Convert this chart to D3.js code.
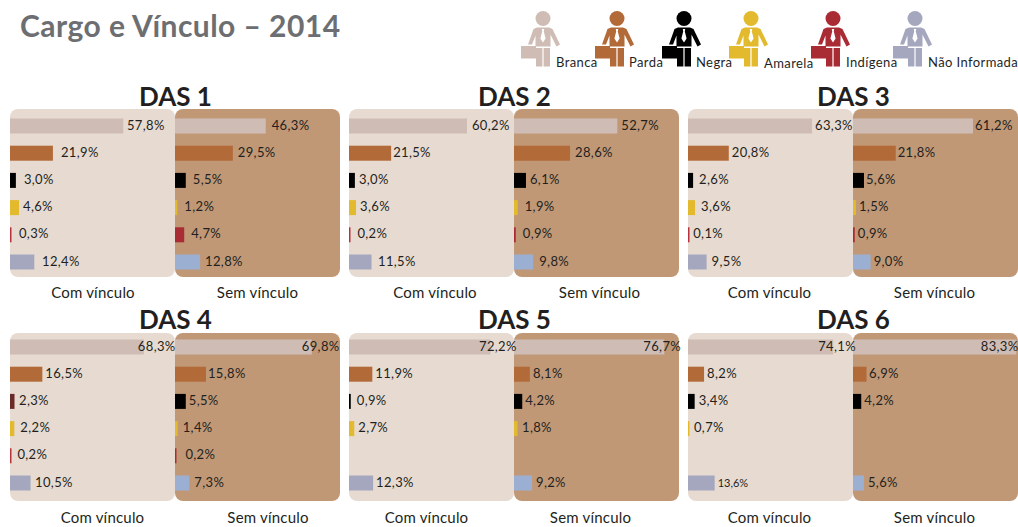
<!DOCTYPE html>
<html><head><meta charset="utf-8">
<script src="https://cdn.jsdelivr.net/npm/d3@7"></script>
<style>html,body{margin:0;padding:0;background:#fff}svg{display:block}text{font-family:Lato,"Open Sans",sans-serif}</style>
</head><body><svg id="c" width="1018" height="527"></svg>
<script>
const mainTitle = "Cargo e Vínculo – 2014";
const categories = ["Branca","Parda","Negra","Amarela","Indígena","Não Informada"];
const cargos = ["DAS 1","DAS 2","DAS 3","DAS 4","DAS 5","DAS 6"];
const vinculos = ["Com vínculo","Sem vínculo"];

const das1Com = [57.8,21.9,3.0,4.6,0.3,12.4];
const das1Sem = [46.3,29.5,5.5,1.2,4.7,12.8];
const das2Com = [60.2,21.5,3.0,3.6,0.2,11.5];
const das2Sem = [52.7,28.6,6.1,1.9,0.9,9.8];
const das3Com = [63.3,20.8,2.6,3.6,0.1,9.5];
const das3Sem = [61.2,21.8,5.6,1.5,0.9,9.0];
const das4Com = [68.3,16.5,2.3,2.2,0.2,10.5];
const das4Sem = [69.8,15.8,5.5,1.4,0.2,7.3];
const das5Com = [72.2,11.9,0.9,2.7,null,12.3];
const das5Sem = [76.7,8.1,4.2,1.8,null,9.2];
const das6Com = [74.1,8.2,3.4,0.7,null,13.6];
const das6Sem = [83.3,6.9,4.2,null,null,5.6];
const seriesValues = [[das1Com,das1Sem],[das2Com,das2Sem],[das3Com,das3Sem],[das4Com,das4Sem],[das5Com,das5Sem],[das6Com,das6Sem]];

// ---- layout and style, separate from the data ----
const labelGaps = [
 [[3.7,8,8,4,8.4,7.7],[6,5,7,7,7,5]],
 [[5,2,4,4,8,6.5],[4,5,4,7,7,6]],
 [[3,3,6,6,5,5],[2,2,2,3,3,3]],
 [[-6,3,4.5,6,7,4.5],[-10,2,3,5,10,5]],
 [[-11.5,3,6,4,0,3],[-21,3,3,4.5,0,4]],
 [[-15,3,4,4.6,0,3],[-35.5,2.5,3,0,0,4]]
];
const comColors = ["#cfbdb5","#b26a38","#000000","#e3ba2e","#b8323c","#a5a7bf"];
const semColors = ["#cfbdb5","#b26a38","#000000","#e3ba2e","#a92b33","#9bafd3"];
const legendColors = ["#cfbdb5","#b26a38","#000000","#e3ba2e","#a92b33","#a5a7bf"];
const panelColors = ["#e7dbd1","#c09876"];
const columnX = [[10,175,340],[349,514,679],[688,853,1018]];
const rowLayout = [
 {top:109,bottom:277,first:126,last:262,titleY:96,subY:293},
 {top:333,bottom:501,first:347,last:483,titleY:319,subY:518}
];
const subCenters = [[93,257.5],[435,599.5],[769.5,934.5],[102.5,268],[426.5,590.5],[769.5,934.5]];
const titleCenters = [175.5,514.5,853.5,175.5,514.5,853.5];
const legendHeadX = [543,617,684,751,833,915];
const legendLabelX = [556,629,696,764,846,928];

const svg = d3.select("#c");
const widthScale = d3.scaleLinear().domain([0,100]).range([0,196]);
const fmt = v => d3.format(".1f")(v).replace(".",",")+"%";

svg.append("text").attr("x",20).attr("y",37).attr("font-size",30).attr("font-weight",700)
  .attr("letter-spacing",0.45).attr("fill","#6d6e71").text(mainTitle);

// legend
const legend = svg.append("g").selectAll("g").data(categories).join("g")
  .attr("transform",(d,i)=>`translate(${legendHeadX[i]},18.5)`);
legend.append("circle").attr("r",7.5).attr("fill",(d,i)=>legendColors[i]);
legend.append("path").attr("fill",(d,i)=>legendColors[i])
  .attr("d","M-6,9L6,9L9.5,10.5L17,26L13.5,28L7.5,16L7.5,28L-7.5,28L-7.5,17L-11,26L-15,26L-9.5,10.5Z"
    +"M-22,27.5L-7,27.5L-7,40L-22,40Z"
    +"M-7,29.5L-0.6,29.5L-0.6,48L-7,48Z M0.6,29.5L7,29.5L7,48L0.6,48Z");
legend.append("path").attr("fill","#fff")
  .attr("d","M-1.2,10.5L1.2,10.5L0.8,13L2.6,20L0,24L-2.6,20L-0.8,13Z");
svg.append("g").selectAll("text").data(categories).join("text")
  .attr("x",(d,i)=>legendLabelX[i]).attr("y",(d,i)=>i===3?67.5:67)
  .attr("font-size",13).attr("letter-spacing",0.4).attr("fill","#1f1f1f").text(d=>d);

// panels
const marksLayer = svg.append("g");
const textLayer = svg.append("g");
cargos.forEach((cargo,p)=>{
  const col = columnX[p%3], row = rowLayout[p<3?0:1];
  const rowY = d3.scalePoint().domain(categories).range([row.first,row.last]);
  textLayer.append("text").attr("x",titleCenters[p]).attr("y",row.titleY+9.5).attr("text-anchor","middle")
    .attr("font-size",26).attr("font-weight",700).attr("fill","#231f20").text(cargo);
  vinculos.forEach((v,s)=>{
    const x0 = col[s], x1 = col[s+1];
    marksLayer.append("rect").attr("x",x0).attr("y",row.top).attr("width",x1-x0).attr("height",row.bottom-row.top)
      .attr("rx",8).attr("fill",panelColors[s]);
    const cols = s===0?comColors:semColors;
    const vals = seriesValues[p][s];
    const pts = vals.map((val,i)=>({val,i})).filter(d=>d.val!==null);
    marksLayer.append("g").selectAll("rect").data(pts).join("rect")
      .attr("x",x0).attr("y",d=>rowY(categories[d.i])-7.5).attr("height",15)
      .attr("width",d=>Math.min(x1-x0,Math.max(1.5,widthScale(d.val))))
      .attr("fill",d=>(p===3&&s===0&&d.i===2)?"#6b2a2a":cols[d.i]);
    textLayer.append("g").selectAll("text").data(pts).join("text")
      .attr("x",d=>x0+widthScale(d.val)+labelGaps[p][s][d.i])
      .attr("y",d=>rowY(categories[d.i])+3.6)
      .attr("font-size",d=>(p===5&&s===0&&d.i===5)?11:13)
      .attr("letter-spacing",d=>(p===5&&s===0&&d.i===5)?0:0.35)
      .attr("fill","#231f20").text(d=>fmt(d.val));
    textLayer.append("text").attr("x",subCenters[p][s]).attr("y",row.subY+5).attr("text-anchor","middle")
      .attr("font-size",15).attr("letter-spacing",0.2).attr("fill","#231f20").text(v);
  });
});
</script></body></html>
